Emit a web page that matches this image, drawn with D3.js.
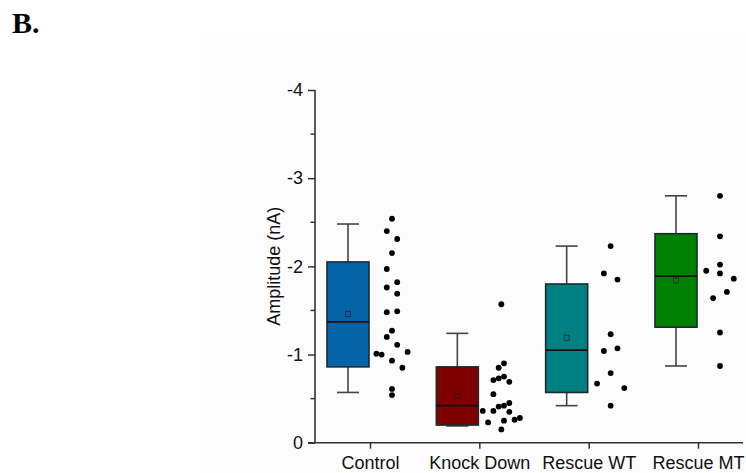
<!DOCTYPE html>
<html>
<head>
<meta charset="utf-8">
<script src="https://cdn.jsdelivr.net/npm/d3@7"></script>
<style>
  html, body { margin: 0; padding: 0; background: #ffffff; }
  svg { display: block; }
  text { font-family: "Liberation Sans", Arial, sans-serif; fill: #111; }
</style>
</head>
<body>
<svg id="chart" width="746" height="473"></svg>
<script>
// ---------- data ----------
const categories = ["Control", "Knock Down", "Rescue WT", "Rescue MT"];
const boxColors = ["#0563a8", "#800000", "#008080", "#008000"];

// box statistics (nA)
const q1Values       = [-0.86, -0.20, -0.57, -1.31];
const medianValues   = [-1.37, -0.42, -1.05, -1.89];
const q3Values       = [-2.05, -0.86, -1.80, -2.37];
const meanValues     = [-1.46, -0.53, -1.19, -1.84];
const whiskerLow     = [-0.57, -0.19, -0.42, -0.87];
const whiskerHigh    = [-2.48, -1.24, -2.23, -2.80];

// individual cells (nA) and their swarm lane (dot columns)
const controlPoints = [-2.54, -2.40, -2.31, -2.15, -1.97, -1.82, -1.76, -1.69, -1.48, -1.49,
                       -1.27, -1.20, -1.11, -1.03, -1.01, -1.00, -0.93, -0.85, -0.61, -0.54];
const controlLanes  = [0, -1, 1, 0, -1, 1, -1, 1, -1, 1, 0, -1, 1, 3, -3, -2, 0, 2, 0, 0];

const knockDownPoints = [-1.57, -0.90, -0.85, -0.71, -0.73, -0.75, -0.69, -0.55, -0.45, -0.42,
                         -0.41, -0.36, -0.36, -0.35, -0.23, -0.25, -0.26, -0.28, -0.15];
const knockDownLanes  = [0, 0.5, -0.5, -1.5, -0.5, 0.5, 1.5, -1.5, 1.5, 0.5,
                         -0.5, -3.5, -1.5, 1.5, -2.5, 0.5, 2.5, 3.5, 0];

const rescueWTPoints = [-2.23, -1.92, -1.85, -1.23, -1.04, -1.07, -0.79, -0.67, -0.62, -0.42];
const rescueWTLanes  = [0, -1, 1, 0, -1, 1, 0, -2, 2, 0];

const rescueMTPoints = [-2.80, -2.34, -2.02, -1.95, -1.92, -1.86, -1.71, -1.64, -1.25, -0.87];
const rescueMTLanes  = [0, 0, 0, -2, 0, 2, 1, -1, 0, 0];

const yTicks = [0, -1, -2, -3, -4];
const yMinorTicks = [-0.5, -1.5, -2.5, -3.5];
const yLabel = "Amplitude (nA)";
const panelLabel = "B.";

// ---------- layout ----------
const svg = d3.select("#chart");
const W = 746, H = 473;
const axisX = 315, axisRight = 743;
const y = d3.scaleLinear().domain([0, -4]).range([442.7, 90]);
const x = d3.scalePoint().domain(categories).range([370, 698]);
const boxShift = -22, dotShift = 22, boxW = 42, capW = 22;
const laneSpacing = [5.2, 5.3, 6.8, 6.9];
const dotR = 2.9;
const fontPx = "18px";

const groups = categories.map((c, i) => ({
  cat: c, i,
  color: boxColors[i],
  q1: q1Values[i], med: medianValues[i], q3: q3Values[i], mean: meanValues[i],
  lo: whiskerLow[i], hi: whiskerHigh[i],
  pts: [controlPoints, knockDownPoints, rescueWTPoints, rescueMTPoints][i],
  lanes: [controlLanes, knockDownLanes, rescueWTLanes, rescueMTLanes][i]
}));

// faint plot-page background
svg.append("rect").attr("x", 200).attr("y", 32).attr("width", W - 200).attr("height", H - 32)
  .attr("fill", "#fcfcfc");

// panel label
svg.append("text").attr("x", 12).attr("y", 33)
  .style("font-family", "'Liberation Serif', 'Times New Roman', serif")
  .style("font-weight", "bold").style("font-size", "30px").style("fill", "#000")
  .text(panelLabel);

// ---------- boxes ----------
const g = svg.append("g");
groups.forEach(d => {
  const cx = x(d.cat) + boxShift;
  // whiskers
  g.append("line").attr("x1", cx).attr("x2", cx).attr("y1", y(d.q3)).attr("y2", y(d.hi))
    .attr("stroke", "#444").attr("stroke-width", 1.6);
  g.append("line").attr("x1", cx).attr("x2", cx).attr("y1", y(d.q1)).attr("y2", y(d.lo))
    .attr("stroke", "#444").attr("stroke-width", 1.6);
  g.append("line").attr("x1", cx - capW / 2).attr("x2", cx + capW / 2).attr("y1", y(d.hi)).attr("y2", y(d.hi))
    .attr("stroke", "#444").attr("stroke-width", 1.6);
  g.append("line").attr("x1", cx - capW / 2).attr("x2", cx + capW / 2).attr("y1", y(d.lo)).attr("y2", y(d.lo))
    .attr("stroke", "#444").attr("stroke-width", 1.6);
  // box
  g.append("rect").attr("x", cx - boxW / 2).attr("y", y(d.q3))
    .attr("width", boxW).attr("height", y(d.q1) - y(d.q3))
    .attr("fill", d.color).attr("stroke", "#1c2a30").attr("stroke-width", 1.6);
  // median
  g.append("line").attr("x1", cx - boxW / 2).attr("x2", cx + boxW / 2)
    .attr("y1", y(d.med)).attr("y2", y(d.med))
    .attr("stroke", "#111").attr("stroke-width", 1.8);
  // mean marker
  g.append("rect").attr("x", cx - 2.5).attr("y", y(d.mean) - 2.5).attr("width", 5).attr("height", 5)
    .attr("fill", "none").attr("stroke", "#1a1a1a").attr("stroke-opacity", 0.8).attr("stroke-width", 0.9);
  // dots
  g.selectAll(null).data(d.pts.map((v, k) => ({ v, lane: d.lanes[k] })))
    .enter().append("circle")
    .attr("cx", p => x(d.cat) + dotShift + p.lane * laneSpacing[d.i])
    .attr("cy", p => y(p.v))
    .attr("r", dotR)
    .attr("fill", "#000");
});

// ---------- axes ----------
const axisColor = "#333";
// y axis
const yAxis = svg.append("g").attr("transform", `translate(${axisX},0)`)
  .call(d3.axisLeft(y).tickValues(yTicks).tickSize(7).tickPadding(5).tickFormat(d3.format("d")));
yAxis.select(".domain").remove();
yAxis.selectAll(".tick line").attr("stroke", axisColor).attr("stroke-width", 1.5);
yAxis.selectAll(".tick text").style("font-size", fontPx).style("font-family", "'Liberation Sans', Arial, sans-serif")
  .attr("fill", "#111").text(d => d === 0 ? "0" : "-" + Math.abs(d));
svg.append("g").attr("transform", `translate(${axisX},0)`)
  .selectAll("line").data(yMinorTicks).enter().append("line")
  .attr("x1", -4.5).attr("x2", 0).attr("y1", d => y(d)).attr("y2", d => y(d))
  .attr("stroke", axisColor).attr("stroke-width", 1.5);
svg.append("line").attr("x1", axisX).attr("x2", axisX).attr("y1", y(-4)).attr("y2", y(0))
  .attr("stroke", axisColor).attr("stroke-width", 1.6);

// x axis
const xAxis = svg.append("g").attr("transform", `translate(0,${y(0)})`)
  .call(d3.axisBottom(x).tickSize(6).tickPadding(8));
xAxis.select(".domain").remove();
xAxis.selectAll(".tick line").attr("stroke", axisColor).attr("stroke-width", 1.5);
xAxis.selectAll(".tick text").style("font-size", fontPx)
  .style("font-family", "'Liberation Sans', Arial, sans-serif").attr("fill", "#111");
svg.append("line").attr("x1", axisX - 7).attr("x2", axisRight).attr("y1", y(0)).attr("y2", y(0))
  .attr("stroke", axisColor).attr("stroke-width", 1.6);

// y label
svg.append("text")
  .attr("transform", `translate(280,266.3) rotate(-90)`)
  .attr("text-anchor", "middle")
  .style("font-size", fontPx)
  .text(yLabel);
</script>
</body>
</html>
